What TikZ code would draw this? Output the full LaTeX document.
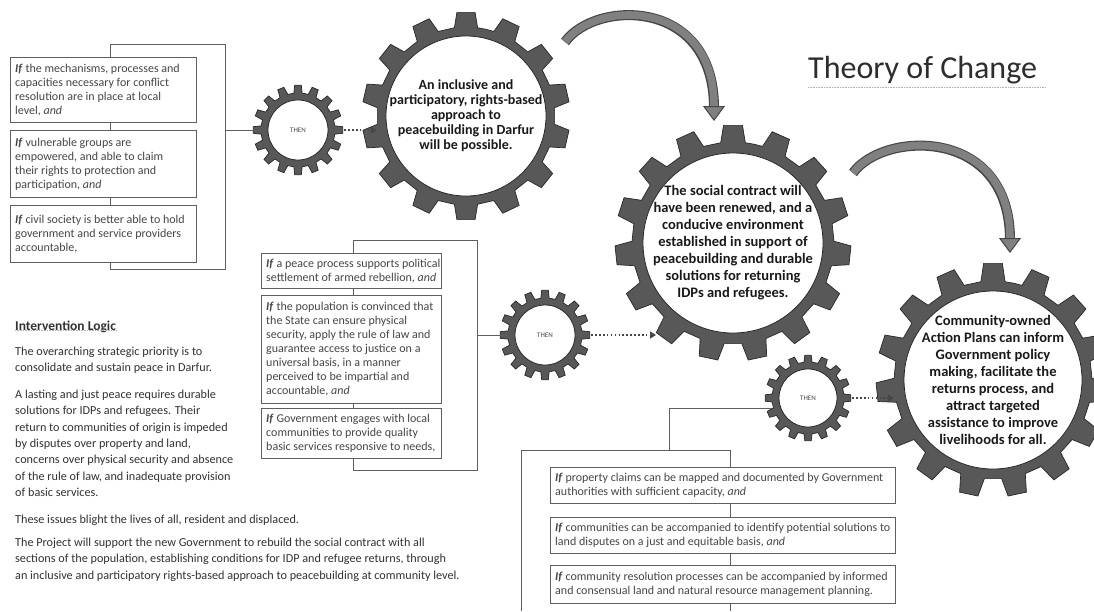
\documentclass[tikz,border=0pt]{standalone}
\usepackage{fontspec}
\setmainfont{Carlito}
\usetikzlibrary{arrows.meta,calc}
\definecolor{gearfill}{RGB}{88,88,88}
\definecolor{gearline}{RGB}{40,40,40}
\definecolor{arcfill}{RGB}{128,128,128}
\definecolor{arcline}{RGB}{70,70,70}
\definecolor{boxline}{RGB}{95,95,95}
\definecolor{boxtext}{RGB}{70,70,70}
\definecolor{bodytext}{RGB}{50,50,50}
\definecolor{geartext}{RGB}{25,25,25}
\definecolor{dotcol}{RGB}{70,70,70}
\definecolor{titlecol}{RGB}{45,45,45}
\newcommand{\Iff}{\textbf{\textit{If}}}
\newcommand{\andi}{\textit{and}}
% #1 centre, #2 teeth, #3 white radius, #4 ring radius, #5 outer radius, #6 half base angle, #7 half top angle, #8 offset
\newcommand{\drawgear}[8]{%
  \begin{scope}[shift={#1}]
    \pgfmathsetmacro{\gper}{360/#2}
    \filldraw[fill=gearfill, draw=gearline, line width=0.7pt]
      ({#8-\gper/2}:#4pt)
      \foreach \gi in {1,...,#2}{
        -- ({#8+(\gi-1)*\gper-#6}:#4pt) -- ({#8+(\gi-1)*\gper-#7}:#5pt)
        -- ({#8+(\gi-1)*\gper+#7}:#5pt) -- ({#8+(\gi-1)*\gper+#6}:#4pt)
      } -- cycle;
    \filldraw[fill=white, draw=gearline, line width=0.8pt] (0,0) circle (#3pt);
  \end{scope}}
\begin{document}
\begin{tikzpicture}[x=1pt,y=-1pt,
  conn/.style={draw=boxline, line width=0.9pt},
  ifbox/.style={draw=boxline, line width=0.9pt, fill=white, anchor=north west, inner sep=0pt},
  iftext/.style={anchor=west, align=left, inner sep=0pt, text=boxtext, font=\fontsize{12}{14}\selectfont},
  gearnode/.style={circle, inner sep=0pt, align=center, text=geartext},
  thentext/.style={font=\fontsize{7}{8}\selectfont, text=boxtext},
  dotarrow/.style={draw=dotcol, line width=1.7pt, dash pattern=on 1.6pt off 2.3pt, -{Triangle[width=7pt,length=6pt]}},
  bodypar/.style={anchor=north west, align=left, inner sep=0pt, text=bodytext, font=\fontsize{12.2}{16.3}\selectfont},
  dotline/.style={draw=gray!60, line width=0.6pt, dash pattern=on 0.8pt off 0.8pt}
]
\useasboundingbox (0,0) rectangle (1094,611);
\fill[white] (0,0) rectangle (1094,611);

% title
\node[anchor=base west, inner sep=0pt, font=\fontsize{32}{36}\selectfont, text=titlecol] (title) at (808,78) {Theory of Change};
\draw[dotline] ($(title.base west)+(0,9)$) -- ($(title.base east)+(8,9)$);

% brackets
\draw[conn] (110,44) rectangle (225,269);
\draw[conn] (353,240) rectangle (477,470);
\draw[conn] (521,611) -- (521,450) -- (730,450) -- (730,611);

% left boxes
\node[ifbox, minimum width=186pt, minimum height=65pt] (lb1) at (10,57) {};
\node[iftext] (lb1t) at ([xshift=5pt]lb1.west) {\Iff{} the mechanisms, processes and\\capacities necessary for conflict\\resolution are in place at local\\level, \andi};
\node[ifbox, minimum width=186pt, minimum height=67pt] (lb2) at (10,130) {};
\node[iftext] (lb2t) at ([xshift=5pt]lb2.west) {\Iff{} vulnerable groups are\\empowered,\ and able to claim\\their rights to protection and\\participation, \andi};
\node[ifbox, minimum width=186pt, minimum height=57pt] (lb3) at (10,205) {};
\node[iftext] (lb3t) at ([xshift=5pt]lb3.west) {\Iff{} civil society is better able to hold\\government\ and service providers\\accountable,};

% middle boxes
\node[ifbox, minimum width=180pt, minimum height=35pt] (mb1) at (261,253) {};
\node[iftext] (mb1t) at ([xshift=5pt]mb1.west) {\Iff{} a peace process supports political\\settlement of armed rebellion, \andi};
\node[ifbox, minimum width=180pt, minimum height=108pt] (mb2) at (261,295) {};
\node[iftext] (mb2t) at ([xshift=5pt]mb2.west) {\Iff{} the population is convinced that\\the State can ensure physical\\security, apply the rule of law and\\guarantee access to justice on a\\universal basis, in a manner\\perceived to be impartial and\\accountable, \andi};
\node[ifbox, minimum width=180pt, minimum height=50pt] (mb3) at (261,408) {};
\node[iftext] (mb3t) at ([xshift=5pt]mb3.west) {\Iff{} Government engages with local\\communities to provide quality\\basic services responsive to needs,};

% bottom boxes
\node[ifbox, minimum width=345pt, minimum height=36pt] (bb1) at (550,467) {};
\node[iftext] (bb1t) at ([xshift=5pt]bb1.west) {\Iff{} property claims can be mapped and documented by Government\\authorities with sufficient capacity, \andi};
\node[ifbox, minimum width=345pt, minimum height=36pt] (bb2) at (550,517) {};
\node[iftext] (bb2t) at ([xshift=5pt]bb2.west) {\Iff{} communities can be accompanied to identify potential solutions to\\land disputes on a just and equitable basis, \andi};
\node[ifbox, minimum width=345pt, minimum height=38pt] (bb3) at (550,565) {};
\node[iftext] (bb3t) at ([xshift=5pt]bb3.west) {\Iff{} community resolution processes can be accompanied by informed\\and consensual land and natural resource management planning.};

% gears
\drawgear{(298,130)}{16}{30}{37}{45}{6.5}{4.2}{90}
\drawgear{(466,116)}{14}{80}{89}{104}{7.5}{5}{90}
\drawgear{(733,243)}{15}{90}{101}{118}{7}{4.6}{90}
\drawgear{(545,335)}{16}{30}{37}{45}{6.5}{4.2}{90}
\drawgear{(993,380)}{15}{89}{99}{117}{7}{4.6}{90}
\drawgear{(808,398)}{16}{29}{36}{43}{6.5}{4.2}{90}

\node[gearnode, thentext, minimum size=74pt] (sg1) at (298,130) {THEN};
\node[gearnode, thentext, minimum size=74pt] (sg2) at (545,335) {THEN};
\node[gearnode, thentext, minimum size=72pt] (sg3) at (808,398) {THEN};
\node[gearnode, minimum size=178pt, font=\fontsize{14}{15}\selectfont\bfseries] (bg1) at (466,116)
  {An inclusive and\\participatory, rights-based\\approach to\\peacebuilding in Darfur\\will be possible.};
\node[gearnode, minimum size=202pt, font=\fontsize{14.5}{17}\selectfont\bfseries] (bg2) at (733,243)
  {The social contract will\\have been renewed, and a\\conducive environment\\established in support of\\peacebuilding and durable\\solutions for returning\\IDPs and refugees.};
\node[gearnode, minimum size=198pt, font=\fontsize{14.5}{17}\selectfont\bfseries] (bg3) at (993,380)
  {Community-owned\\Action Plans can inform\\Government policy\\making, facilitate the\\returns process, and\\attract targeted\\assistance to improve\\livelihoods for all.};

% connectors from brackets to THEN gears
\coordinate (lbr) at (225,130);
\draw[conn] (lbr) -- (sg1);
\coordinate (mbr) at (477,335);
\draw[conn] (mbr) -- (sg2);
\coordinate (bbt) at (669,450);
\coordinate (bbc) at (669,408);
\draw[conn] (bbt) -- (bbc) -- (bbc -| sg3.west);

% dotted arrows
\coordinate (d2e) at (656,335);
\draw[dotarrow] ([xshift=9pt]sg1.east) -- (sg1.east -| bg1.west);
\draw[dotarrow] ([xshift=9pt]sg2.east) -- (d2e);
\draw[dotarrow] ([xshift=8pt]sg3.east) -- (sg3.east -| bg3.west);

% curved arrows
\coordinate (a1s) at (565,42);
\coordinate (a1e) at (714,121);
\coordinate (a2s) at (853,173);
\coordinate (a2e) at (1010,253);
\draw[arcline, line width=10pt, shorten >=13pt] (a1s) .. controls (595,0) and (714,-3) .. (a1e);
\draw[arcfill, line width=7.6pt, -{Triangle[width=22pt,length=15pt,fill=arcfill,color=arcline,line width=1pt]}] (a1s) .. controls (595,0) and (714,-3) .. (a1e);
\draw[arcline, line width=10pt, shorten >=13pt] (a2s) .. controls (883,131) and (1010,126) .. (a2e);
\draw[arcfill, line width=7.6pt, -{Triangle[width=22pt,length=15pt,fill=arcfill,color=arcline,line width=1pt]}] (a2s) .. controls (883,131) and (1010,126) .. (a2e);

% intervention logic text
\node[anchor=west, inner sep=0pt, text=bodytext, font=\fontsize{13.5}{16}\selectfont\bfseries] (ilh) at (15,327) {Intervention Logic};
\draw[dotline] ([yshift=3pt]ilh.south west) -- ([yshift=3pt]ilh.south east);
\node[bodypar] (p1) at (15,344) {\strut The overarching strategic priority is to\\consolidate and sustain peace in Darfur.};
\node[bodypar] (p2) at (15,387) {\strut A lasting and just peace requires durable\\solutions for IDPs and refugees. Their\\return to communities of origin is impeded\\by disputes over property and land,\\concerns over physical security and absence\\of the rule of law, and inadequate provision\\of basic services.};
\node[bodypar] (p3) at (15,512) {\strut These issues blight the lives of all, resident and displaced.};
\node[bodypar] (p4) at (15,535) {\strut The Project will support the new Government to rebuild the social contract with all\\sections of the population, establishing conditions for IDP and refugee returns, through\\an inclusive and participatory rights-based approach to peacebuilding at community level.};
\end{tikzpicture}
\end{document}
